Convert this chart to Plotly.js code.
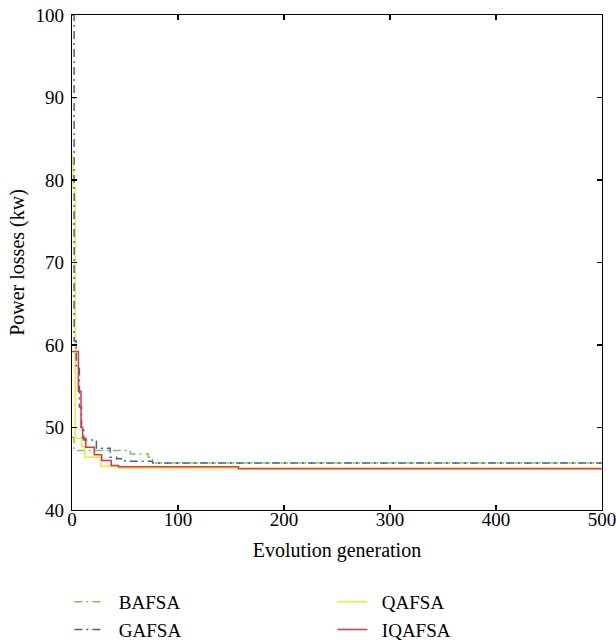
<!DOCTYPE html>
<html>
<head>
<meta charset="utf-8">
<script src="https://cdn.plot.ly/plotly-3.0.1.min.js"></script>
<style>html,body{margin:0;padding:0;background:#fff;}#chart{width:616px;height:640px;}</style>
</head>
<body>
<div id="chart"></div>
<script>
// Data (step curves)
const bafsaX = [0, 2, 55, 72, 76, 500];
const bafsaY = [48.8, 47.2, 46.8, 46.4, 45.7, 45.7];

const gafsaX = [0, 2, 4, 7, 9, 11, 23, 36, 42, 50, 76, 500];
const gafsaY = [100, 60.5, 57.5, 52.5, 50.0, 48.5, 47.5, 46.4, 46.2, 45.9, 45.7, 45.7];

const qafsaX = [0, 1, 3, 9, 12, 27, 44, 500];
const qafsaY = [83, 79, 48.7, 47.7, 46.4, 45.3, 45.1, 45.1];

const iqafsaX = [0, 6, 8.5, 10, 13, 21, 28, 37, 44, 157, 500];
const iqafsaY = [59.2, 54.4, 50.0, 48.7, 47.6, 46.7, 46.0, 45.4, 45.25, 45.0, 45.0];

const xTicks = [0, 100, 200, 300, 400, 500];
const yTicks = [40, 50, 60, 70, 80, 90, 100];

const FONT = "Liberation Serif, Times New Roman, serif";
const dashDot = "8px,4px,2px,4px";
const pad = "\u2002";

const traces = [
  {x: bafsaX, y: bafsaY, name: pad + "BAFSA", mode: "lines", line: {shape: "hv", color: "#7cc653", width: 1.5, dash: dashDot}},
  {x: qafsaX, y: qafsaY, name: pad + "QAFSA", mode: "lines", line: {shape: "hv", color: "#f2ea2c", width: 1.5}},
  {x: gafsaX, y: gafsaY, name: pad + "GAFSA", mode: "lines", line: {shape: "hv", color: "#3c5fb4", width: 1.5, dash: dashDot}},
  {x: iqafsaX, y: iqafsaY, name: pad + "IQAFSA", mode: "lines", line: {shape: "hv", color: "#e8333a", width: 1.5}}
];

const axisCommon = {
  showgrid: false, zeroline: false, showline: true, linecolor: "#000", linewidth: 1.2,
  mirror: "ticks", ticks: "inside", ticklen: 5, tickcolor: "#000", tickwidth: 1.2,
  tickfont: {family: FONT, size: 19, color: "#000"}, ticklabeloverflow: "allow"
};

const layout = {
  width: 616, height: 640,
  margin: {l: 72, r: 14, t: 15, b: 130, autoexpand: false},
  paper_bgcolor: "#fff", plot_bgcolor: "#fff",
  font: {family: FONT, color: "#000"},
  xaxis: Object.assign({}, axisCommon, {
    range: [0, 500], tickvals: xTicks, ticktext: xTicks.map(String),
    ticklabelstandoff: -8,
    title: {text: "Evolution generation", font: {family: FONT, size: 20}, standoff: 14}
  }),
  yaxis: Object.assign({}, axisCommon, {
    range: [40, 100], tickvals: yTicks, ticktext: yTicks.map(String),
    ticklabelstandoff: 3,
    title: {text: "Power losses (kw)", font: {family: FONT, size: 20}, standoff: 5}
  }),
  showlegend: true,
  legend: {
    orientation: "h", x: -0.005, xanchor: "left", y: -0.1475, yanchor: "top",
    entrywidth: 218, entrywidthmode: "pixels",
    font: {family: FONT, size: 19, color: "#000"},
    bgcolor: "rgba(0,0,0,0)", traceorder: "normal", tracegroupgap: 0
  }
};

Plotly.newPlot("chart", traces, layout, {displayModeBar: false, staticPlot: true});
</script>
</body>
</html>
